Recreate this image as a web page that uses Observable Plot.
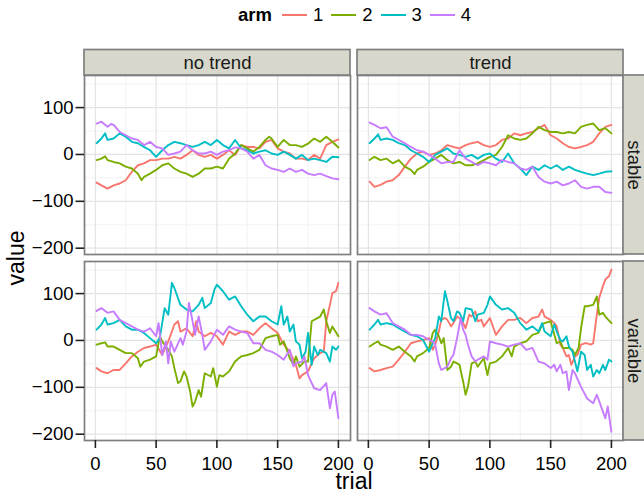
<!DOCTYPE html>
<html>
<head>
<meta charset="utf-8">
<script src="https://cdn.jsdelivr.net/npm/d3@7"></script>
<script src="https://cdn.jsdelivr.net/npm/@observablehq/plot@0.6"></script>
<style>
  body { margin: 0; background: #fff; font-family: "Liberation Sans", Arial, sans-serif; }
  #legend { position: relative; width: 644px; height: 30px; }
  #legendBox { position: absolute; left: 238px; top: 0; height: 30px; display: flex; align-items: center; font-size: 18.5px; color: #000; white-space: nowrap; }
  #legendBox .title { font-weight: bold; margin-right: 10px; }
  #legendBox .key { display: inline-block; width: 25px; height: 2px; }
  #legendBox .lab { margin-left: 6px; margin-right: 8px; }
</style>
</head>
<body>
<div id="legend"><div id="legendBox"></div></div>
<div id="chart"></div>
<script>
// ---- categories & ticks ----
const trendLevels = ["no trend", "trend"];
const volLevels = ["stable", "variable"];
const arms = ["1", "2", "3", "4"];
const armColors = ["#F8766D", "#7CAE00", "#00BFC4", "#C77CFF"];
const xTicks = [0, 50, 100, 150, 200];
const xMinor = [25, 75, 125, 175];
const yTicks = [-200, -100, 0, 100];
const yMinor = [-150, -50, 50, 150];

// ---- series values: [trial, value] ----
// no trend / stable
const ntStable1 = [[1,-60],[5,-66],[10,-73],[15,-66],[20,-62],[25,-55],[30,-37],[35,-23],[40,-19],[45,-12],[50,-12],[55,-9],[60,-9],[65,-5],[70,-9],[75,-1],[80,9],[85,-1],[90,-5],[95,-1],[100,-9],[105,-1],[110,9],[115,-1],[120,20],[125,16],[130,16],[135,13],[140,27],[145,31],[150,13],[155,6],[160,2],[165,-9],[170,-9],[175,-12],[180,-1],[185,-9],[190,20],[195,27],[200,32]];
const ntStable2 = [[1,-12],[5,-9],[8,-4],[10,-12],[15,-16],[20,-19],[25,-26],[30,-30],[35,-41],[38,-55],[40,-48],[45,-41],[50,-33],[55,-23],[60,-19],[65,-30],[70,-37],[75,-41],[80,-48],[85,-41],[90,-30],[95,-30],[100,-26],[105,-30],[110,-9],[115,2],[120,20],[125,13],[130,6],[135,16],[140,31],[143,38],[145,34],[150,16],[155,31],[160,20],[165,20],[170,16],[175,23],[180,34],[185,27],[190,38],[195,27],[200,15]];
const ntStable3 = [[1,24],[5,34],[8,45],[10,31],[15,34],[20,45],[25,38],[30,27],[35,24],[40,16],[45,9],[50,-5],[55,9],[60,20],[65,27],[70,24],[75,20],[80,16],[85,20],[90,27],[95,20],[100,31],[105,20],[110,13],[115,31],[120,13],[125,9],[130,2],[135,6],[140,9],[145,2],[150,-1],[155,6],[160,-1],[165,-9],[170,-1],[175,-12],[180,-9],[185,-12],[190,-16],[195,-5],[200,-6]];
const ntStable4 = [[1,66],[5,70],[10,59],[13,65],[15,63],[20,48],[25,41],[30,34],[35,31],[40,20],[45,27],[50,16],[55,13],[60,-1],[65,2],[70,6],[75,20],[80,9],[85,2],[90,2],[95,6],[100,-1],[105,6],[110,9],[115,15],[120,13],[125,6],[130,-9],[135,-1],[140,-23],[145,-30],[150,-33],[155,-37],[160,-30],[165,-37],[170,-33],[175,-41],[180,-44],[185,-41],[190,-46],[195,-51],[200,-53]];
// trend / stable
const tStable1 = [[1,-58],[5,-69],[10,-65],[15,-58],[20,-55],[25,-44],[30,-26],[35,-9],[40,2],[45,6],[50,-1],[55,2],[60,9],[65,20],[70,16],[75,13],[80,20],[85,24],[90,27],[95,20],[100,16],[105,20],[110,31],[115,34],[120,45],[125,41],[130,45],[135,48],[140,56],[145,63],[150,41],[155,34],[160,24],[165,16],[170,13],[175,16],[180,20],[185,27],[190,45],[195,59],[200,63]];
const tStable2 = [[1,-12],[5,-5],[10,-12],[15,-9],[20,-19],[25,-12],[30,-26],[35,-33],[38,-42],[40,-33],[45,-26],[50,-16],[55,-9],[60,-1],[65,-12],[70,-19],[75,-16],[80,-23],[85,-23],[90,-19],[95,-12],[100,-5],[105,-1],[110,16],[115,41],[120,34],[125,31],[130,34],[135,45],[140,59],[145,52],[150,48],[155,48],[160,45],[165,48],[170,45],[175,59],[180,63],[185,66],[190,52],[195,56],[200,45]];
const tStable3 = [[1,24],[5,34],[8,43],[10,31],[15,34],[20,31],[25,24],[30,20],[35,9],[40,2],[45,-5],[50,-16],[55,-1],[60,6],[65,13],[70,2],[75,-1],[80,-5],[85,-1],[90,-9],[95,-1],[100,2],[105,-9],[110,-16],[115,2],[120,-19],[125,-30],[130,-44],[135,-26],[140,-33],[145,-23],[150,-30],[155,-23],[160,-33],[165,-26],[170,-33],[175,-37],[180,-41],[185,-44],[190,-41],[195,-37],[200,-36]];
const tStable4 = [[1,68],[5,63],[10,56],[15,58],[20,38],[25,31],[30,24],[35,16],[40,9],[45,6],[50,-1],[55,-9],[60,-19],[65,-16],[70,-16],[75,9],[80,-9],[85,-16],[90,-23],[95,-16],[100,-19],[105,-23],[110,-12],[115,-16],[120,-19],[125,-30],[130,-33],[135,-26],[140,-48],[145,-58],[150,-62],[155,-58],[160,-66],[165,-62],[170,-55],[175,-69],[180,-73],[185,-69],[190,-69],[195,-80],[200,-82]];
// no trend / variable
const ntVar1 = [[1,-59],[5,-66],[10,-70],[15,-63],[20,-63],[25,-49],[30,-34],[35,-24],[40,-16],[45,-13],[50,-9],[55,-31],[58,-13],[60,-2],[65,34],[68,41],[70,19],[75,26],[80,9],[83,41],[85,19],[90,9],[95,16],[100,9],[105,-9],[110,19],[115,12],[120,19],[125,19],[130,12],[135,26],[140,37],[145,26],[150,16],[155,-9],[160,-24],[165,-52],[168,-81],[170,-74],[175,-66],[180,-38],[185,-27],[188,-24],[190,41],[193,76],[195,101],[198,105],[200,123]];
const ntVar2 = [[1,-9],[5,-6],[8,-4],[10,-13],[15,-13],[20,-20],[25,-27],[30,-27],[35,-38],[37,-56],[40,-45],[45,-41],[50,-34],[53,9],[55,-2],[60,-20],[63,-34],[65,-59],[68,-91],[70,-87],[73,-66],[75,-77],[78,-109],[80,-141],[82,-131],[85,-106],[87,-120],[90,-70],[95,-77],[97,-59],[100,-99],[102,-74],[105,-77],[110,-66],[115,-45],[118,-38],[120,-34],[125,-31],[130,-27],[135,-20],[140,5],[145,9],[150,12],[152,-9],[155,-2],[160,-38],[163,-52],[165,-34],[168,-56],[172,-45],[175,-45],[178,41],[180,44],[185,51],[188,66],[190,41],[193,16],[195,30],[200,9]];
const ntVar3 = [[1,23],[5,34],[8,48],[10,34],[15,37],[20,44],[25,30],[30,23],[35,23],[40,16],[45,5],[50,-6],[53,5],[57,69],[60,55],[63,123],[65,112],[70,76],[75,66],[80,62],[85,76],[88,91],[90,69],[95,80],[98,109],[100,119],[105,105],[110,87],[115,94],[120,73],[125,55],[130,41],[135,51],[140,51],[145,41],[150,34],[153,73],[155,34],[158,51],[160,19],[163,34],[165,-2],[168,-9],[170,-38],[173,-24],[175,16],[178,-52],[180,-13],[183,-31],[185,-20],[190,-27],[193,-45],[195,-13],[198,-20],[200,-13]];
const ntVar4 = [[1,63],[5,69],[10,59],[15,62],[20,44],[25,37],[30,30],[35,23],[40,19],[45,26],[50,9],[52,37],[55,-31],[58,-2],[60,-49],[62,-2],[65,-24],[70,5],[72,-9],[75,19],[77,80],[80,41],[82,12],[85,51],[88,12],[90,-20],[95,-2],[100,23],[105,12],[110,30],[115,23],[120,19],[125,16],[130,-6],[135,-6],[140,-20],[145,-24],[150,-31],[155,-41],[160,-20],[163,-55],[165,-49],[170,-45],[172,-34],[175,-74],[180,-102],[185,-106],[190,-91],[193,-145],[195,-116],[197,-109],[200,-166]];
// trend / variable
const tVar1 = [[1,-59],[5,-66],[10,-63],[15,-59],[20,-56],[25,-41],[30,-24],[35,-6],[40,-2],[45,1],[50,5],[53,-20],[55,-9],[58,19],[60,44],[63,48],[65,44],[68,30],[70,37],[73,51],[75,48],[78,37],[80,26],[83,55],[85,51],[88,62],[90,41],[93,44],[95,30],[100,48],[105,12],[110,30],[115,44],[120,44],[125,48],[130,37],[135,48],[140,51],[143,66],[145,51],[150,44],[153,37],[155,30],[158,-9],[160,-16],[163,-34],[165,-31],[167,-52],[170,-34],[172,-31],[175,-9],[178,-6],[180,-6],[183,-9],[185,-6],[188,55],[190,91],[193,116],[195,130],[198,137],[200,151]];
const tVar2 = [[1,-13],[5,-6],[8,-2],[10,-9],[15,-13],[20,-20],[25,-13],[30,-24],[35,-34],[38,-45],[40,-34],[45,-27],[50,-16],[53,16],[55,23],[58,9],[60,-6],[62,5],[65,-63],[68,-56],[70,-45],[73,-49],[75,-52],[78,-88],[80,-116],[82,-98],[85,-49],[88,-45],[90,-56],[93,-45],[95,-38],[98,-74],[100,-49],[105,-45],[110,-34],[115,-16],[118,-34],[120,-13],[125,-6],[130,-2],[135,12],[140,16],[143,34],[145,37],[150,41],[155,-6],[158,-2],[160,-16],[165,-16],[168,-20],[170,-31],[173,-16],[175,26],[178,73],[180,73],[185,76],[188,94],[190,55],[193,59],[195,51],[200,37]];
const tVar3 = [[1,23],[5,34],[8,44],[10,34],[15,37],[20,34],[25,26],[30,19],[35,12],[40,9],[45,1],[50,-24],[53,-6],[55,5],[58,51],[60,41],[63,105],[65,84],[68,48],[70,41],[73,62],[75,59],[78,41],[80,69],[85,66],[88,41],[90,55],[95,59],[98,76],[100,94],[105,76],[110,66],[115,69],[120,59],[125,37],[130,23],[135,30],[140,19],[143,37],[145,19],[150,9],[153,34],[155,19],[158,1],[160,-2],[163,9],[165,-13],[168,-24],[170,-45],[172,-66],[175,-24],[178,-31],[180,-63],[183,-52],[185,-77],[188,-63],[190,-70],[193,-52],[195,-63],[198,-41],[200,-45]];
const tVar4 = [[1,69],[5,62],[10,55],[15,58],[20,37],[25,30],[30,23],[35,12],[40,12],[45,9],[50,1],[53,-2],[55,-9],[58,-49],[60,-63],[65,-56],[68,-38],[70,-31],[73,5],[76,48],[78,23],[80,12],[82,-9],[85,-34],[88,-45],[90,-41],[95,-34],[98,-41],[100,-2],[105,-6],[110,-9],[115,-13],[120,-9],[125,-6],[130,-20],[135,-16],[140,-45],[145,-49],[150,-59],[153,-52],[155,-66],[158,-52],[160,-70],[163,-66],[165,-106],[168,-63],[170,-70],[175,-99],[180,-124],[185,-134],[188,-116],[190,-130],[193,-152],[195,-166],[197,-141],[200,-195]];

const seriesTable = [
  ["no trend", "stable", "1", ntStable1], ["no trend", "stable", "2", ntStable2],
  ["no trend", "stable", "3", ntStable3], ["no trend", "stable", "4", ntStable4],
  ["trend", "stable", "1", tStable1], ["trend", "stable", "2", tStable2],
  ["trend", "stable", "3", tStable3], ["trend", "stable", "4", tStable4],
  ["no trend", "variable", "1", ntVar1], ["no trend", "variable", "2", ntVar2],
  ["no trend", "variable", "3", ntVar3], ["no trend", "variable", "4", ntVar4],
  ["trend", "variable", "1", tVar1], ["trend", "variable", "2", tVar2],
  ["trend", "variable", "3", tVar3], ["trend", "variable", "4", tVar4]
];
const rows = seriesTable.flatMap(([trend, vol, arm, pts]) =>
  pts.map(([trial, value]) => ({trend, vol, arm, trial, value})));

// ---- legend (above the svg) ----
const lb = document.getElementById("legendBox");
const t = document.createElement("span"); t.className = "title"; t.textContent = "arm"; lb.appendChild(t);
arms.forEach((a, i) => {
  const k = document.createElement("span"); k.className = "key"; k.style.background = armColors[i]; lb.appendChild(k);
  const l = document.createElement("span"); l.className = "lab"; l.textContent = a; lb.appendChild(l);
});

// ---- chart ----
const FS = 18.5;
const stripFill = "#d8d7cb", borderCol = "#7f7f7f";
const panelW = 266, panelH = 179, stripSize = 25.5;

const chart = Plot.plot({
  width: 644, height: 463,
  marginLeft: 84, marginRight: 21, marginTop: 45, marginBottom: 53,
  style: {fontFamily: "'Liberation Sans', Arial, sans-serif", fontSize: FS + "px", background: "#fff", overflow: "visible", color: "#000"},
  x: {domain: [-8.95, 209.95]},
  y: {domain: [-213.5, 168.5]},
  fx: {domain: trendLevels, paddingInner: 7 / 273, paddingOuter: 0, round: false, axis: null},
  fy: {domain: volLevels, paddingInner: 7 / 186, paddingOuter: 0, round: false, axis: null},
  color: {domain: arms, range: armColors},
  marks: [
    Plot.gridX({ticks: xMinor, stroke: "#f3f3f3", strokeOpacity: 1, strokeWidth: 1}),
    Plot.gridY({ticks: yMinor, stroke: "#f3f3f3", strokeOpacity: 1, strokeWidth: 1}),
    Plot.gridX({ticks: xTicks, stroke: "#e4e4e4", strokeOpacity: 1, strokeWidth: 1.2}),
    Plot.gridY({ticks: yTicks, stroke: "#e4e4e4", strokeOpacity: 1, strokeWidth: 1.2}),
    Plot.line(rows, {x: "trial", y: "value", z: "arm", stroke: "arm", fx: "trend", fy: "vol", strokeWidth: 1.9}),
    Plot.frame({stroke: borderCol, strokeWidth: 1.7}),
    // top strips
    Plot.rect(trendLevels, {fx: d => d, fy: () => volLevels[0], fill: stripFill, stroke: borderCol, strokeWidth: 1.7, insetTop: -stripSize, insetBottom: panelH}),
    Plot.text(trendLevels, {fx: d => d, fy: () => volLevels[0], text: d => d, frameAnchor: "top", dy: -stripSize / 2, textAnchor: "middle", lineAnchor: "middle", fontSize: FS, fill: "#1a1a1a"}),
    // right strips
    Plot.rect(volLevels, {fx: () => trendLevels[1], fy: d => d, fill: stripFill, stroke: borderCol, strokeWidth: 1.7, insetLeft: panelW, insetRight: -stripSize}),
    Plot.text(volLevels, {fx: () => trendLevels[1], fy: d => d, text: d => d, frameAnchor: "right", dx: 10.5, rotate: 90, textAnchor: "middle", lineAnchor: "middle", fontSize: FS, fill: "#1a1a1a"}),
    // axes
    Plot.axisY({ticks: yTicks, tickSize: 8.5, tickPadding: 2.5, label: null, fontSize: FS, strokeWidth: 1.6, stroke: "#222"}),
    Plot.axisX({ticks: xTicks, tickSize: 8, tickPadding: 8.5, label: null, fontSize: FS, strokeWidth: 1.6, stroke: "#222"}),
    // axis titles
    Plot.text(["value"], {fx: () => trendLevels[0], fy: () => volLevels[0], text: d => d, frameAnchor: "bottom-left", dx: -68, dy: 3.5, rotate: -90, textAnchor: "middle", lineAnchor: "middle", fontSize: 23}),
    Plot.text(["trial"], {fx: () => trendLevels[0], fy: () => volLevels[1], text: d => d, frameAnchor: "bottom-right", dx: 3.5, dy: 41, textAnchor: "middle", lineAnchor: "middle", fontSize: 23})
  ]
});
document.getElementById("chart").appendChild(chart);
</script>
</body>
</html>
